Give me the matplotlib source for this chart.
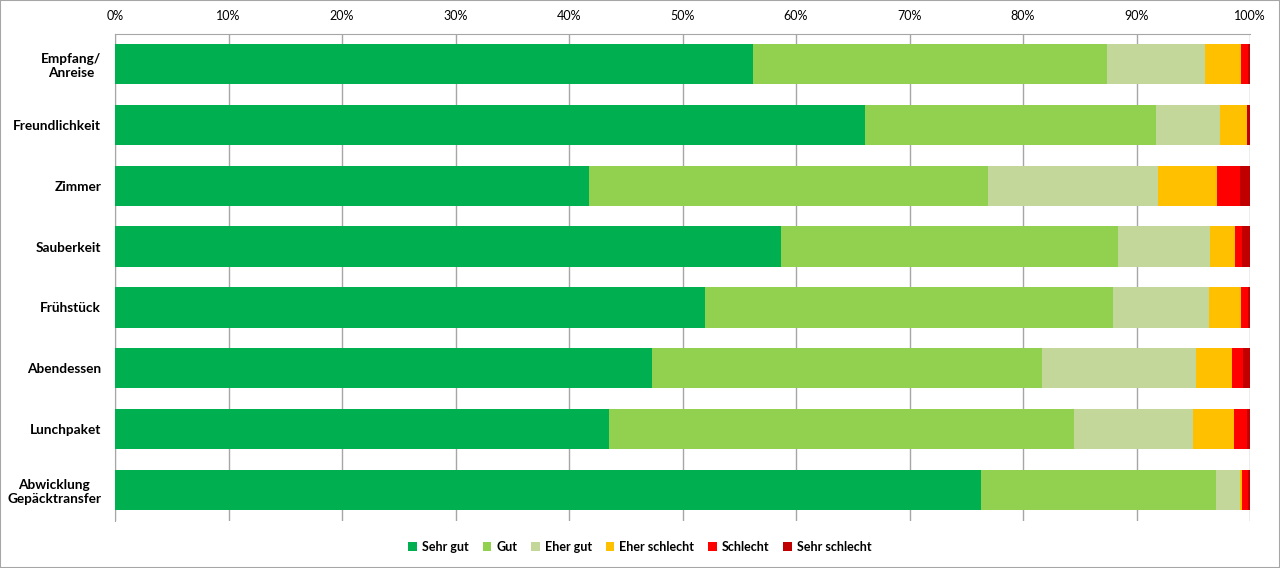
import matplotlib.pyplot as plt
import numpy as np
from matplotlib.patches import Rectangle

categories = ["Empfang/\nAnreise", "Freundlichkeit", "Zimmer", "Sauberkeit",
              "Frühstück", "Abendessen", "Lunchpaket", "Abwicklung\nGepäcktransfer"]

series_names = ["Sehr gut", "Gut", "Eher gut", "Eher schlecht", "Schlecht", "Sehr schlecht"]
series_colors = ["#00B050", "#92D050", "#C4D79B", "#FFC000", "#FF0000", "#C00000"]

sehr_gut      = [56.2, 66.1, 41.8, 58.7, 52.0, 47.3, 43.5, 76.3]
gut           = [31.2, 25.6, 35.1, 29.7, 35.9, 34.4, 41.0, 20.7]
eher_gut      = [8.6, 5.7, 15.0, 8.1, 8.5, 13.5, 10.5, 2.1]
eher_schlecht = [3.2, 2.3, 5.2, 2.2, 2.8, 3.2, 3.6, 0.2]
schlecht      = [0.6, 0.0, 2.0, 0.6, 0.6, 1.0, 1.1, 0.5]
sehr_schlecht = [0.2, 0.3, 0.9, 0.7, 0.2, 0.6, 0.3, 0.2]

data = np.array([sehr_gut, gut, eher_gut, eher_schlecht, schlecht, sehr_schlecht])
data = data / data.sum(axis=0)  # 100% stacked

font = "Lato"

fig = plt.figure(figsize=(12.8, 5.68), dpi=100)
ax = fig.add_axes([115 / 1280, 1 - 520.5 / 568, 1135 / 1280, 487 / 568])

y = np.arange(len(categories))
left = np.zeros(len(categories))
for vals, name, col in zip(data, series_names, series_colors):
    ax.barh(y, vals, left=left, height=0.66, color=col, label=name, zorder=3)
    left += vals

ax.set_xlim(0, 1)
ax.set_ylim(len(categories) - 0.5, -0.5)
ax.set_xticks(np.arange(0, 1.01, 0.1))
ax.set_xticklabels([f"{int(round(t * 100))}%" for t in np.arange(0, 1.01, 0.1)],
                   fontfamily=font, fontsize=9)
ax.xaxis.tick_top()
ax.tick_params(axis="x", length=0, pad=8)
ax.set_yticks(y)
ax.set_yticklabels(categories, fontfamily=font, fontweight="bold", fontsize=9.8,
                   multialignment="center")
ax.tick_params(axis="y", length=0, pad=10)
ax.grid(axis="x", color="#A6A6A6", linewidth=1, zorder=0)

for side in ["right", "bottom"]:
    ax.spines[side].set_visible(False)
for side in ["left", "top"]:
    ax.spines[side].set_color("#A6A6A6")

leg = fig.legend(loc="center", bbox_to_anchor=(0.5, 1 - 547 / 568), ncol=6,
                 frameon=False, handlelength=0.7, handleheight=0.7,
                 handletextpad=0.4, columnspacing=1.1,
                 prop={"family": font, "weight": "bold", "size": 9})

fig.patches.append(Rectangle((0, 0), 1, 1, transform=fig.transFigure,
                             fill=False, edgecolor="#A6A6A6", linewidth=1.5))

fig.savefig("out.png", dpi=100)
